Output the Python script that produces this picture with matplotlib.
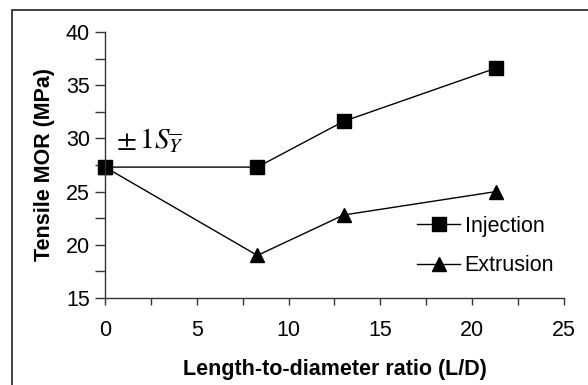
import matplotlib
matplotlib.use('Agg')
import matplotlib.pyplot as plt
from matplotlib.patches import Rectangle
from matplotlib.ticker import MultipleLocator

plt.rcParams['font.family'] = ['Liberation Sans', 'DejaVu Sans']
plt.rcParams['mathtext.fontset'] = 'stix'

# data
ld_ratio = [0, 8.3, 13.0, 21.3]
injection = [27.3, 27.3, 31.6, 36.6]
extrusion = [27.3, 19.0, 22.8, 25.0]

fig = plt.figure(figsize=(5.88, 3.85), dpi=100)
ax = fig.add_axes([0.1786, 0.226, 0.7804, 0.691])

# outer frame (cut off at right/bottom like the original)
fig.patches.append(Rectangle((0.0204, -0.05), 1.1, 1.024, transform=fig.transFigure,
                             fill=False, ec='#333333', lw=1.3))

ax.plot(ld_ratio, injection, color='black', lw=1.0, marker='s', ms=9.5,
        mfc='black', mec='black', label='Injection', clip_on=False)
ax.plot(ld_ratio, extrusion, color='black', lw=1.0, marker='^', ms=10,
        mfc='black', mec='black', label='Extrusion', clip_on=False)

ax.set_xlim(0, 25)
ax.set_ylim(15, 40)
ax.xaxis.set_major_locator(MultipleLocator(5))
ax.xaxis.set_minor_locator(MultipleLocator(2.5))
ax.yaxis.set_major_locator(MultipleLocator(5))
ax.yaxis.set_minor_locator(MultipleLocator(2.5))
ax.tick_params(which='both', direction='out', color='#333333', width=1.0)
ax.tick_params(axis='y', which='both', length=7, pad=4)
ax.tick_params(axis='x', which='both', length=5, pad=11)
ax.tick_params(labelsize=15.5)

for s in ['top', 'right']:
    ax.spines[s].set_visible(False)
for s in ['left', 'bottom']:
    ax.spines[s].set_color('#333333')
    ax.spines[s].set_linewidth(1.0)

ax.set_xlabel('Length-to-diameter ratio (L/D)', fontsize=15.5, fontweight='bold', labelpad=13)
ax.set_ylabel('Tensile MOR (MPa)', fontsize=15.5, fontweight='bold', labelpad=8)

ax.text(0.6, 29.8, r'$\pm\, 1S_{\overline{Y}}$', fontsize=21, va='center', ha='left',
        family='serif')

leg = ax.legend(loc='center left', bbox_to_anchor=(0.638, 0.195), frameon=False,
                fontsize=15.5, handlelength=2.0, handletextpad=0.2, labelspacing=0.85)

fig.savefig('out.png', dpi=100)
